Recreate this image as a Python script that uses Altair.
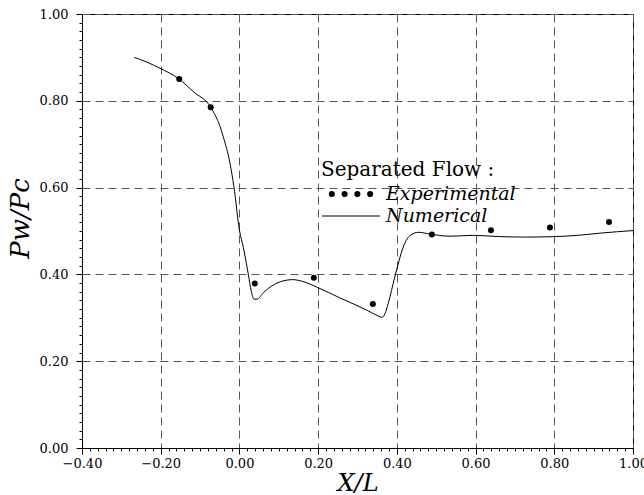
import altair as alt
import pandas as pd

# Experimental data (dots)
exp_x = [-0.153, -0.073, 0.039, 0.189, 0.339, 0.489, 0.639, 0.789, 0.939]
exp_y = [0.850, 0.785, 0.379, 0.392, 0.332, 0.492, 0.502, 0.508, 0.521]

# Numerical solution (line)
num_x = [-0.267, -0.235, -0.202, -0.153, -0.117, -0.073, -0.049, -0.041, -0.024,
         -0.014, 0.000, 0.010, 0.023, 0.030, 0.037, 0.045, 0.061, 0.085, 0.111,
         0.135, 0.160, 0.196, 0.255, 0.323, 0.353, 0.362, 0.370, 0.378, 0.395,
         0.406, 0.415, 0.433, 0.455, 0.484, 0.535, 0.594, 0.662, 0.730, 0.797,
         0.860, 0.916, 1.000]
num_y = [0.900, 0.889, 0.875, 0.850, 0.821, 0.785, 0.740, 0.717, 0.656,
         0.602, 0.502, 0.462, 0.398, 0.362, 0.343, 0.343, 0.358, 0.375, 0.385,
         0.388, 0.384, 0.371, 0.346, 0.318, 0.304, 0.301, 0.310, 0.333, 0.395,
         0.433, 0.460, 0.489, 0.497, 0.493, 0.488, 0.490, 0.487, 0.486, 0.487,
         0.490, 0.495, 0.501]

series_names = ["Experimental", "Numerical"]
legend_title = "Separated Flow :"
x_title = "X/L"
y_title = "Pw/Pc"

# tick positions (majors every 0.2, minors every 0.02)
x_ticks = [round(-0.4 + 0.02 * i, 2) for i in range(71)]
y_ticks = [round(0.02 * i, 2) for i in range(51)]

exp_df = pd.DataFrame({"x": exp_x, "y": exp_y, "series": series_names[0]})
num_df = pd.DataFrame({"x": num_x, "y": num_y, "series": series_names[1]})
all_df = pd.concat([exp_df, num_df], ignore_index=True)

SERIF = "DejaVu Serif"
MAJOR = "abs(datum.value*5 - round(datum.value*5)) < 0.001"

def make_axis(values, title, title_size, **kw):
    return alt.Axis(
        values=values,
        title=title,
        format=".2f",
        labelExpr=f"{MAJOR} ? datum.label : ''",
        labelOverlap=False,
        labelBound=False,
        labelFlush=False,
        labelFont=SERIF,
        labelFontSize=13,
        labelColor="black",
        tickColor="black",
        tickSize={"condition": {"test": MAJOR, "value": 6}, "value": 3},
        grid=True,
        gridColor="#555555",
        gridDash=[8, 5],
        gridWidth=1,
        gridOpacity={"condition": {"test": MAJOR, "value": 1}, "value": 0},
        domainColor="black",
        titleFont=SERIF,
        titleFontStyle="italic",
        titleFontWeight="normal",
        titleFontSize=title_size,
        titleColor="black",
        **kw,
    )

x_enc = alt.X("x:Q",
              scale=alt.Scale(domain=[-0.4, 1.0], nice=False, zero=False),
              axis=make_axis(x_ticks, x_title, 24, labelPadding=3,
                             titleY=23, titleBaseline="top"))
y_enc = alt.Y("y:Q",
              scale=alt.Scale(domain=[0, 1], nice=False, zero=False),
              axis=make_axis(y_ticks, y_title, 26, labelPadding=8,
                             titleX=-54, titleY=204, titleAngle=-90,
                             titleBaseline="alphabetic", titleAlign="center"))

base = alt.Chart(all_df)

line = base.transform_filter(alt.datum.series == series_names[1]).mark_line(
    color="black", strokeWidth=1, interpolate="monotone"
).encode(x=x_enc, y=y_enc, order="x:Q")

points = base.transform_filter(alt.datum.series == series_names[0]).mark_circle(
    color="black", opacity=1, size=36
).encode(x=x_enc, y=y_enc)

# legend glyph: four small solid dots drawn as concentric rings
def ring(c, r):
    return f"M{c - r:.3f},0a{r},{r} 0 1,0 {2 * r},0a{r},{r} 0 1,0 {-2 * r},0Z"

DOTS = " ".join(ring(c, r) for c in (-0.66, -0.22, 0.22, 0.66)
                for r in (0.085, 0.05, 0.018))

legend_layer = base.mark_point(
    filled=False, color="black", strokeWidth=1.2, opacity=0
).encode(
    x=x_enc, y=y_enc,
    shape=alt.Shape(
        "series:N",
        scale=alt.Scale(domain=series_names, range=[DOTS, "stroke"]),
        legend=alt.Legend(
            title=legend_title,
            orient="none",
            legendX=239,
            legendY=146,
            padding=0,
            clipHeight=20,
            symbolSize=3364,
            symbolStrokeColor="black",
            symbolStrokeWidth=1.2,
            symbolOpacity=1,
            labelFont=SERIF,
            labelFontStyle="italic",
            labelFontSize=19,
            labelColor="black",
            labelOffset=5,
            titleFont=SERIF,
            titleFontSize=20,
            titleFontWeight="normal",
            titleColor="black",
            titlePadding=4,
        ),
    ),
)

chart = alt.layer(line, points, legend_layer).properties(
    width=551,
    height=434,
    autosize=alt.AutoSizeParams(type="none"),
    padding={"left": 82, "top": 14, "right": 11, "bottom": 47},
    background="white",
).configure_view(stroke="black", strokeWidth=1)

chart.save("out.html", embed_options={"renderer": "svg", "actions": False})
